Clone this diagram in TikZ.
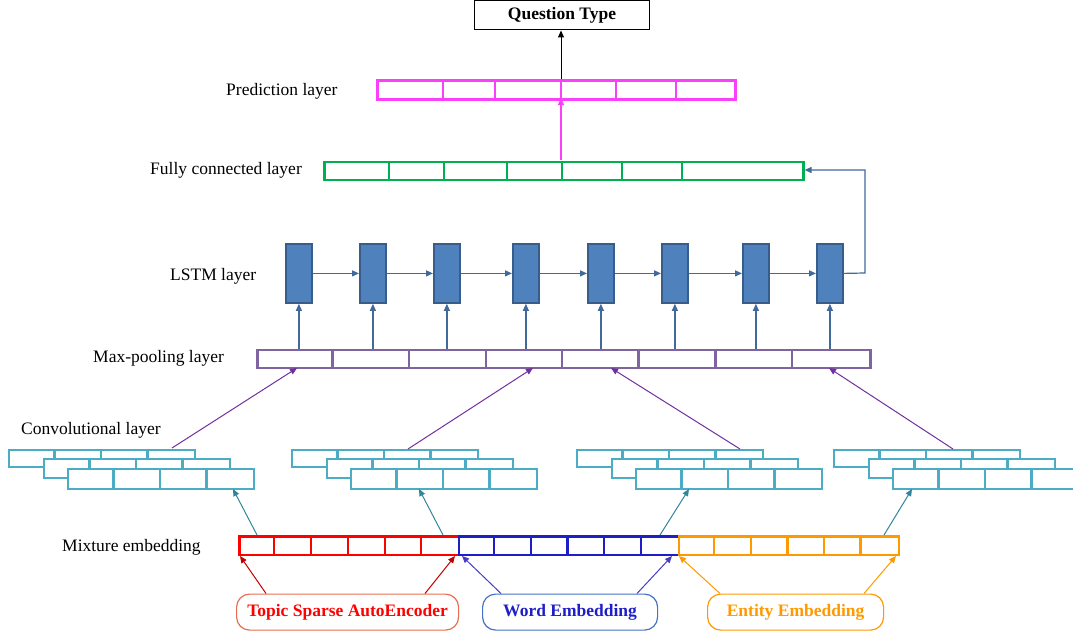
\documentclass[tikz,border=0pt]{standalone}
\usepackage{fontspec}
\setmainfont{Liberation Serif}
\usetikzlibrary{arrows.meta}
\definecolor{predc}{RGB}{250,64,250}
\definecolor{fcc}{RGB}{0,176,80}
\definecolor{lstmfill}{RGB}{79,129,189}
\definecolor{lstmdraw}{RGB}{56,93,138}
\definecolor{mpc}{RGB}{128,100,162}
\definecolor{convc}{RGB}{75,172,198}
\definecolor{redc}{RGB}{255,0,0}
\definecolor{bluec}{RGB}{30,30,200}
\definecolor{orangec}{RGB}{255,153,0}
\definecolor{purplearr}{RGB}{112,48,160}
\definecolor{tealarr}{RGB}{49,133,155}
\definecolor{redarr}{RGB}{192,0,0}
\definecolor{bluearr}{RGB}{70,60,200}
\definecolor{topicbd}{RGB}{230,110,80}
\definecolor{wordbd}{RGB}{68,114,196}
\definecolor{lstmarr}{RGB}{65,105,155}
\tikzset{
  lbl/.style={font=\fontsize{17.5}{20}\selectfont, inner sep=0pt, anchor=west},
  bar/.style={line width=2.6pt, inner sep=0pt, anchor=north west, fill=white},
  convrow/.style={bar, draw=convc, line width=2.3pt, minimum width=186pt},
  lstmcell/.style={draw=lstmdraw, line width=1.8pt, fill=lstmfill, minimum width=26pt, minimum height=59pt, inner sep=0pt, anchor=north west},
  arr/.style={line width=1pt, -{Triangle[length=7pt,width=6pt]}},
  srcbox/.style={rounded corners=13pt, line width=1.2pt, minimum height=36pt, inner sep=0pt, anchor=north west, font=\fontsize{17.5}{20}\selectfont\bfseries}
}
\begin{document}
\begin{tikzpicture}[x=1pt,y=-1pt]
\useasboundingbox (0,0) rectangle (1073,634);

% Question type
\node[draw, line width=1pt, minimum width=175pt, minimum height=29pt, inner sep=0pt, anchor=north west, font=\fontsize{17.5}{20}\selectfont\bfseries] (qt) at (474,0.5) {\raisebox{-2pt}{Question Type}};

% labels
\node[lbl] (lpred) at (226,91.5) {Prediction layer};
\node[lbl] (lfc) at (150,170.5) {Fully connected layer};
\node[lbl] (llstm) at (170,276.5) {LSTM layer};
\node[lbl] (lmp) at (93,358.5) {Max-pooling layer};
\node[lbl] (lconv) at (21,430.5) {Convolutional layer};
\node[lbl] (lmix) at (62,547.5) {Mixture embedding};

% prediction layer
\node[bar, draw=predc, minimum width=358pt, minimum height=19pt] (pred) at (376,79) {};
\foreach \x in {443,495,561,616,676} \draw[predc, line width=2.6pt] (\x,79) -- (\x,98);

% fully connected
\node[bar, draw=fcc, minimum width=479pt, minimum height=18pt] (fc) at (323,160.5) {};
\foreach \x in {389,444,507,562,622,682} \draw[fcc, line width=2.6pt] (\x,160.5) -- (\x,178.5);

% arrows top
\coordinate (fctop) at (561,160);
\coordinate (predbot) at (561,98);
\coordinate (predtop) at (561,79);
\draw[arr, predc, line width=1.3pt] (fctop) -- (predbot);
\draw[arr, black] (predtop) -- (qt.south -| predtop);

% max-pooling
\node[bar, draw=mpc, minimum width=613pt, minimum height=18pt] (mp) at (256,348.5) {};
\foreach \x in {332.5,409,486,562,638.5,715.5,792} \draw[mpc, line width=2.6pt] (\x,348.5) -- (\x,366.5);

% LSTM cells
\foreach \x [count=\i] in {285,359,433,512,587,661,742,816} {
  \node[lstmcell] (l\i) at (\x,243) {};
}
\foreach \i [evaluate=\i as \j using int(\i+1)] in {1,...,7} {
  \draw[arr, lstmarr, line width=1.2pt] (l\i.east) -- (l\j.west);
}
\foreach \i in {1,...,8} {
  \draw[arr, lstmarr, line width=1.2pt] (mp.north -| l\i.south) -- (l\i.south);
}
\coordinate (turn1) at (865,273);
\coordinate (turn2) at (865,170);
\draw[arr, lstmarr, line width=1.2pt] (l8.east) -- (turn1) -- (turn2) -- (fc.east |- turn2);

% convolutional groups
\foreach \b [count=\n] in {8,291,576,833} {
  \node[convrow, minimum height=17pt] (ca\n) at (\b,449) {};
  \foreach \k in {1,2,3} \draw[convc, line width=2.3pt] ({\b+46.5*\k},449) -- ++(0,17);
  \node[convrow, minimum height=19pt] (cb\n) at (\b+35,457.5) {};
  \foreach \k in {1,2,3} \draw[convc, line width=2.3pt] ({\b+35+46.5*\k},457.5) -- ++(0,19);
  \node[convrow, minimum height=20pt] (cc\n) at (\b+59,468) {};
  \foreach \k in {1,2,3} \draw[convc, line width=2.3pt] ({\b+59+46.5*\k},468) -- ++(0,20);
}

% conv -> maxpool arrows
\coordinate (cs1) at (172,448);
\coordinate (cs2) at (408,449);
\coordinate (cs3) at (740,449);
\coordinate (cs4) at (953,449);
\coordinate (me1) at (297,368);
\coordinate (me2) at (533,368);
\coordinate (me3) at (611,368);
\coordinate (me4) at (829,368);
\foreach \i in {1,...,4} \draw[arr, purplearr] (cs\i) -- (me\i);

% mixture embedding
\node[bar, draw=redc, minimum width=219.5pt, minimum height=18.5pt] (mixr) at (238,535) {};
\foreach \x in {274,311,348,385,421} \draw[redc, line width=2.6pt] (\x,535) -- (\x,553.5);
\node[bar, draw=bluec, minimum width=220pt, minimum height=18.5pt] (mixb) at (457.5,535) {};
\foreach \x in {494,531,567.5,604,641} \draw[bluec, line width=2.6pt] (\x,535) -- (\x,553.5);
\node[bar, draw=orangec, minimum width=220pt, minimum height=18.5pt] (mixo) at (677.5,535) {};
\foreach \x in {714,751,787.5,824,860.5} \draw[orangec, line width=2.6pt] (\x,535) -- (\x,553.5);

% mixture -> conv arrows
\coordinate (ms1) at (257,535);
\coordinate (ms2) at (443,535);
\coordinate (ms3) at (660,535);
\coordinate (ms4) at (884,535);
\coordinate (ct1) at (233,489);
\coordinate (ct2) at (419,489);
\coordinate (ct3) at (689,489);
\coordinate (ct4) at (912,489);
\foreach \i in {1,...,4} \draw[arr, tealarr] (ms\i) -- (ct\i);

% source boxes
\node[srcbox, draw=topicbd, text=redc, minimum width=222pt] (tsa) at (236,593.5) {Topic Sparse AutoEncoder};
\node[srcbox, draw=wordbd, text=bluec, minimum width=175pt] (we) at (482,593.5) {Word Embedding};
\node[srcbox, draw=orangec, text=orangec, minimum width=176pt] (ee) at (707,593.5) {Entity Embedding};

\coordinate (ta1) at (266,593.5);
\coordinate (ta2) at (425,593.5);
\coordinate (tb1) at (240,556);
\coordinate (tb2) at (455,556);
\draw[arr, redarr] (ta1) -- (tb1);
\draw[arr, redarr] (ta2) -- (tb2);
\coordinate (wa1) at (501,593.5);
\coordinate (wa2) at (637,593.5);
\coordinate (wb1) at (462,556);
\coordinate (wb2) at (672,556);
\draw[arr, bluearr] (wa1) -- (wb1);
\draw[arr, bluearr] (wa2) -- (wb2);
\coordinate (ea1) at (720,593.5);
\coordinate (ea2) at (864,593.5);
\coordinate (eb1) at (679,556);
\coordinate (eb2) at (896,556);
\draw[arr, orangec] (ea1) -- (eb1);
\draw[arr, orangec] (ea2) -- (eb2);
\end{tikzpicture}
\end{document}
